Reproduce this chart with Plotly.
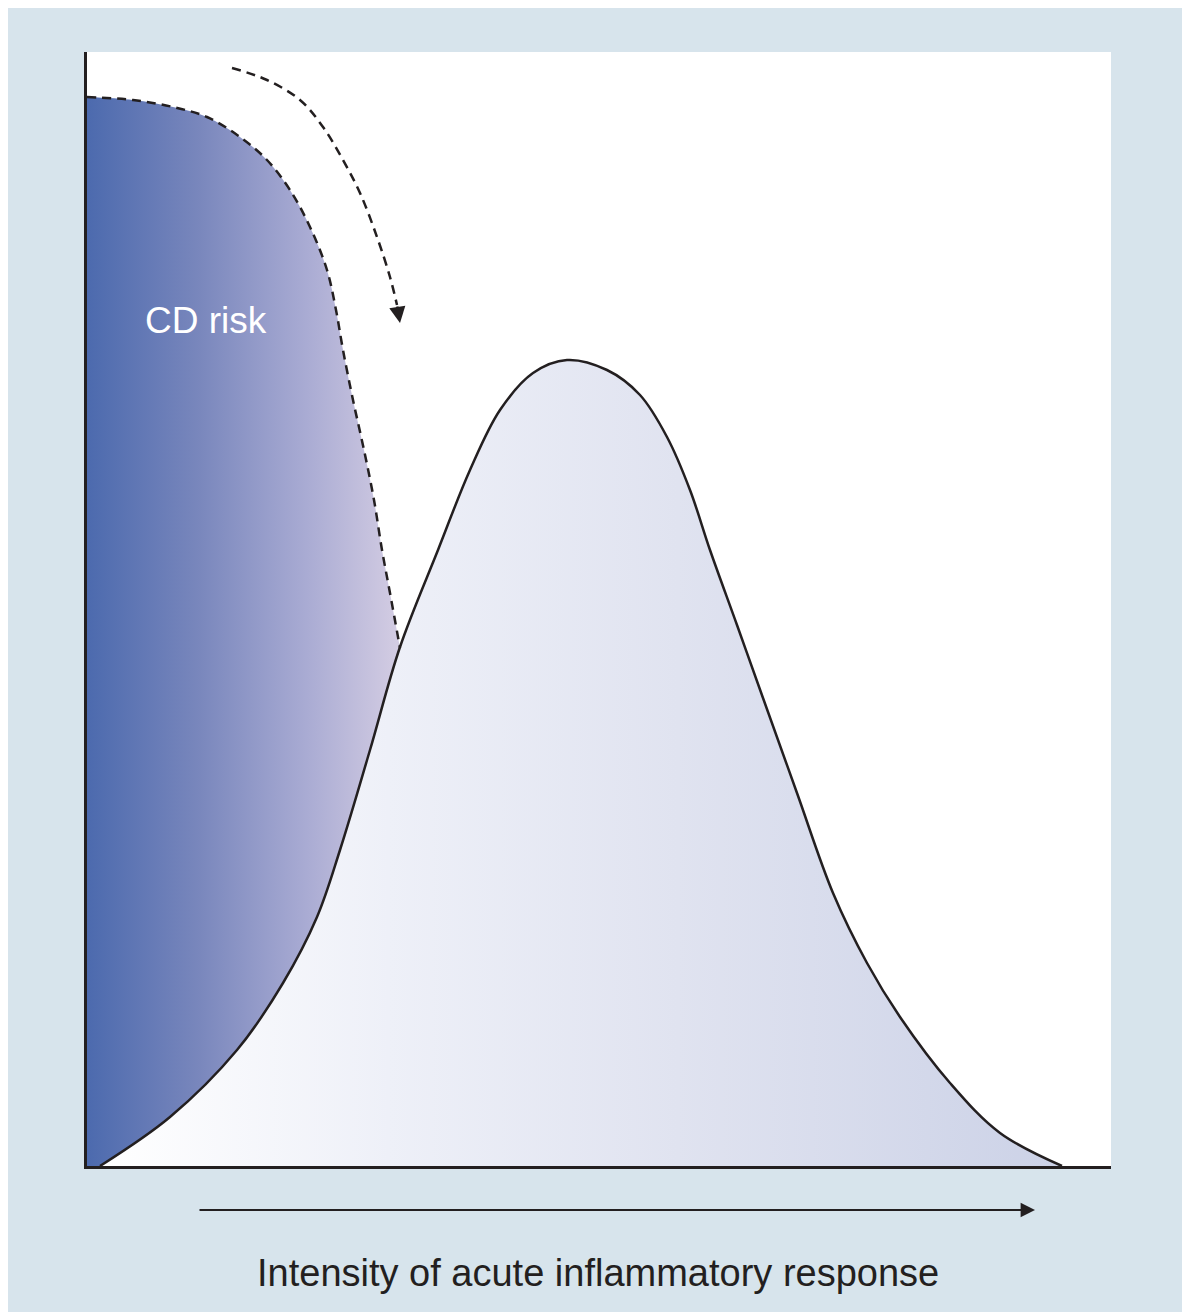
import plotly.graph_objects as go

# ---- data (arbitrary units; x: 0-1024, y: 0-1114) ----
bell_x = [13, 83, 150, 196, 230, 253, 283, 313, 351, 383, 413, 446, 480, 520, 553, 580, 603, 623, 650, 676, 710, 746, 780, 813, 863, 913, 975]
bell_y = [0, 49, 116, 183, 249, 316, 416, 519, 616, 696, 756, 793, 806, 796, 771, 729, 676, 616, 541, 468, 373, 273, 203, 149, 83, 33, 0]

cd_x = [0, 46, 86, 120, 153, 180, 203, 223, 240, 249, 256, 266, 277, 287, 295, 303, 313]
cd_y = [1069, 1066, 1059, 1049, 1029, 1006, 976, 939, 896, 856, 816, 766, 716, 666, 616, 573, 518]

shift_x = [145, 180, 213, 236, 256, 273, 290, 303, 310]
shift_y = [1098, 1086, 1066, 1039, 1006, 973, 929, 889, 861]

cd_label = "CD risk"
x_label = "Intensity of acute inflammatory response"

BG = "#d7e4ec"
INK = "#231f20"
FONT = "Liberation Sans, Arial, sans-serif"

fig = go.Figure()

# CD risk area (gradient fill)
fig.add_trace(go.Scatter(
    x=cd_x, y=cd_y, mode="lines", line=dict(width=0, shape="spline", smoothing=1),
    fill="tozeroy",
    fillgradient=dict(type="horizontal", start=0, stop=313,
                      colorscale=[[0, "#4c6aae"], [0.35, "#7886bc"], [0.7, "#a9abd3"], [1, "#d4cde3"]]),
    hoverinfo="skip", showlegend=False))

# Bell curve (opaque gradient fill on top)
fig.add_trace(go.Scatter(
    x=bell_x, y=bell_y, mode="lines", line=dict(color=INK, width=2.5, shape="spline", smoothing=1),
    fill="tozeroy",
    fillgradient=dict(type="horizontal", start=13, stop=975,
                      colorscale=[[0, "#ffffff"], [0.3, "#eef0f8"], [0.6, "#e0e3f0"], [1, "#ccd2e7"]]),
    hoverinfo="skip", showlegend=False))

# dashed CD risk boundary
fig.add_trace(go.Scatter(
    x=cd_x, y=cd_y, mode="lines", line=dict(color=INK, width=2.5, dash="9px,6px", shape="spline", smoothing=1),
    hoverinfo="skip", showlegend=False))

# curved dashed arrow
fig.add_trace(go.Scatter(
    x=shift_x, y=shift_y, mode="lines", line=dict(color=INK, width=2.5, dash="9px,6px", shape="spline"),
    hoverinfo="skip", showlegend=False))

fig.add_annotation(x=313, y=843, ax=310, ay=861, xref="x", yref="y", axref="x", ayref="y",
                   showarrow=True, arrowhead=2, arrowsize=1.3, arrowwidth=2.5, arrowcolor=INK,
                   text="", standoff=0)

fig.add_annotation(x=119, y=846, xref="x", yref="y", text=cd_label, showarrow=False,
                   font=dict(family=FONT, size=37, color="white"))

# bottom arrow
fig.add_annotation(x=(1035 - 87) / 1024, y=(1166 - 1210) / 1114, xref="paper", yref="paper",
                   ax=-(1035 - 198), ay=0, showarrow=True, arrowhead=2, arrowsize=1.6,
                   arrowwidth=1.8, arrowcolor=INK, text="", standoff=0)

fig.add_annotation(x=(598 - 87) / 1024, y=(1166 - 1273) / 1114, xref="paper", yref="paper",
                   text=x_label, showarrow=False, yanchor="middle",
                   font=dict(family=FONT, size=38, color=INK))

fig.update_xaxes(range=[0, 1024], showgrid=False, zeroline=False, showticklabels=False,
                 ticks="", showline=True, linecolor=INK, linewidth=2.5, fixedrange=True)
fig.update_yaxes(range=[0, 1114], showgrid=False, zeroline=False, showticklabels=False,
                 ticks="", showline=True, linecolor=INK, linewidth=2.5, fixedrange=True)

fig.update_layout(
    width=1190, height=1304,
    margin=dict(l=79, r=87, t=44, b=146),
    paper_bgcolor=BG, plot_bgcolor="white",
    showlegend=False,
)

fig.write_html("out.html", config={"displayModeBar": False})
